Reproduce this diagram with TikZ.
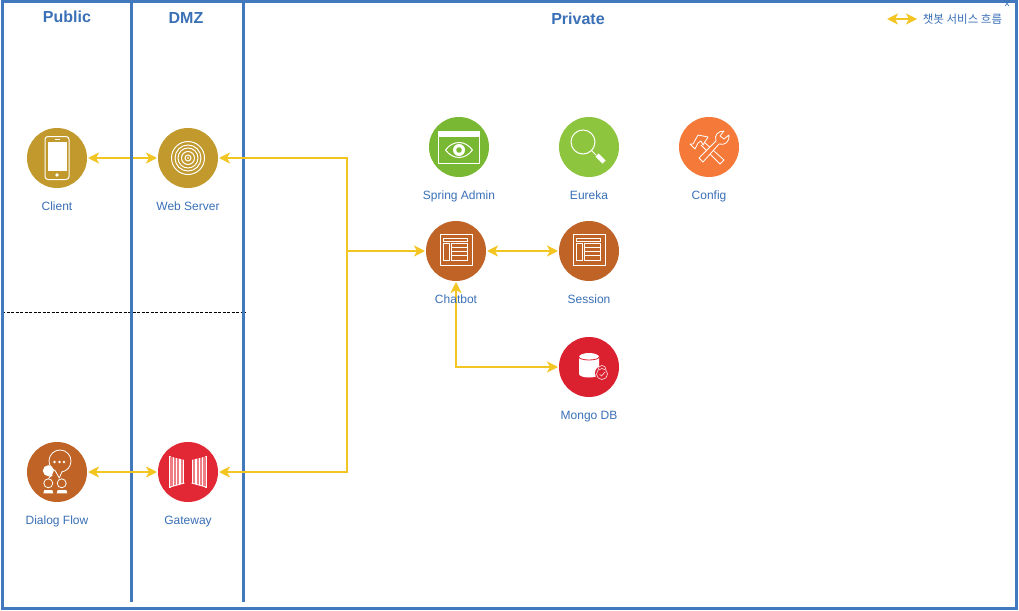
\documentclass[tikz,border=0pt]{standalone}
\usepackage{fontspec}
\setmainfont{Liberation Sans}
\newfontfamily\krfont{Noto Sans CJK KR}
\usetikzlibrary{arrows.meta}
\definecolor{FrameBlue}{RGB}{66,121,190}
\definecolor{TextBlue}{RGB}{58,112,182}
\definecolor{FlowYellow}{RGB}{243,197,35}
\definecolor{IconGold}{RGB}{194,153,45}
\definecolor{IconBrown}{RGB}{191,100,38}
\definecolor{IconRed}{RGB}{226,39,53}
\definecolor{IconDarkRed}{RGB}{219,32,48}
\definecolor{IconGreen}{RGB}{121,184,50}
\definecolor{IconLime}{RGB}{141,197,63}
\definecolor{IconOrange}{RGB}{245,122,58}
% page icon of Chatbot and Session
\newcommand{\pageicon}[1]{
\begin{scope}[shift={(#1)}]
   \draw[icn] (-16,-17) rectangle (16,14);
   \draw[icn] (-13,-13) rectangle (11,-10);
   \draw[icn] (-13,-8) rectangle (-7,9);
   \draw[icn] (-5,-8) rectangle (11,9);
   \foreach \y in {-4,0,4} {
      \draw[icn] (-5,\y) -- (11,\y);
   }
\end{scope}
}
\begin{document}
\begin{tikzpicture}[x=1pt,y=-1pt,
   svc/.style={circle,fill=#1,minimum size=60pt,inner sep=0pt,outer sep=1pt},
   lbl/.style={text=TextBlue,anchor=base,font=\fontsize{12}{14}\selectfont},
   ttl/.style={text=TextBlue,font=\fontsize{16}{18}\selectfont\bfseries},
   flow/.style={FlowYellow,line width=2.2pt,>={Stealth[length=11pt,width=11pt,inset=3pt]}},
   wall/.style={FrameBlue,line width=3pt},
   icn/.style={white,line width=0.8pt}]
\fill[white] (0,0) rectangle (1019,610);
\useasboundingbox (0,0) rectangle (1019,610);
% zones
\draw[black,line width=0.8pt,dash pattern=on 3pt off 1.5pt] (2,312) -- (246,312);
\node[svc=IconGold] (client) at (57,158) {};
\node[svc=IconGold] (web) at (188,158) {};
\draw[flow,<->] (client) -- (web);
\draw[wall] (2,2) rectangle (1016,608);
\draw[wall] (131,2) -- (131,602);
\draw[wall] (243,2) -- (243,602);
\draw[TextBlue,line width=0.6pt] (1004,0) -- (1009,6) (1010,0) -- (1005,6);
\node[ttl] (public) at (67,17) {Public};
\node[ttl] (dmz) at (186,18) {DMZ};
\node[ttl] (private) at (578,19) {Private};
% services
\foreach \nm/\cx/\cy/\col in {dialog/57/472/IconBrown,gateway/188/472/IconRed,admin/459/147/IconGreen,
   eureka/589/147/IconLime,config/709/147/IconOrange,chatbot/456/251/IconBrown,
   session/589/251/IconBrown,mongo/589/367/IconDarkRed} {
   \node[svc=\col] (\nm) at (\cx,\cy) {};
}
\coordinate (bus) at (347,251);
\coordinate (legendl) at (887,19);
\coordinate (legendr) at (917,19);
\draw[flow,<-] (web) -| (bus);
\draw[flow,<-] (gateway) -| (bus);
\draw[flow,->] (bus) -- (chatbot);
\draw[flow,<->] (dialog) -- (gateway);
\draw[flow,<->] (chatbot) -- (session);
\draw[flow,<->] (chatbot) |- (mongo);
\draw[flow,<->] (legendl) -- (legendr);
\node[text=TextBlue,font=\krfont\fontsize{11.5}{13}\selectfont] (legend) at (962.5,19) {챗봇 서비스 흐름};
\foreach \nm/\txt in {client/Client,web/Web Server,dialog/Dialog Flow,gateway/Gateway,admin/Spring Admin,
   eureka/Eureka,config/Config,chatbot/Chatbot,session/Session,mongo/Mongo DB} {
   \node[lbl] (\nm-lbl) at ([yshift=-52pt]\nm.center) {\txt};
}
% phone
\begin{scope}[shift={(client)}]
   \draw[white,line width=1pt,rounded corners=3pt] (-12,-21.5) rectangle (12,21.5);
   \fill[white] (-9.5,-16.5) rectangle (9.5,13);
   \fill[white] (0,17) circle[radius=1.8];
   \draw[icn] (-2.5,-18.8) -- (2.5,-18.8);
\end{scope}
% rings
\begin{scope}[shift={(web)}]
   \foreach \r in {16.5,13,10,6.5,3} {
      \draw[white,line width=1pt] (0,0) circle[radius=\r];
   }
   \fill[white] (0,0) circle[radius=1];
\end{scope}
% people and bubble
\begin{scope}[shift={(dialog)}]
   \draw[icn,line join=round] (3,-11) ++(115:11) arc[start angle=115,end angle=440,radius=11] -- (2.3,6) -- (-1.65,-1.03);
   \foreach \x in {-2.5,2.5,7} {
      \fill[white] (\x,-10) circle[radius=1.3];
   }
   \fill[white] (-8.7,-1.3) circle[radius=5.5];
   \fill[white] (-7,3) -- (-9,7) -- (-4,3) -- cycle;
   \draw[icn] (-8.7,11.3) circle[radius=4.5];
   \draw[icn] (4.7,11.3) circle[radius=4.5];
   \fill[white] (-12.7,18) -- (-4.7,18) -- (-3.7,21.3) -- (-13.7,21.3) -- cycle;
   \fill[white] (0.7,18) -- (9.3,18) -- (10.3,21.3) -- (-0.3,21.3) -- cycle;
\end{scope}
% gates
\begin{scope}[shift={(gateway)}]
   \foreach \s in {-1,1} {
      \begin{scope}[xscale=\s]
         \draw[white,line width=1.6pt] (-18,-16) -- (-18,15.5);
         \begin{scope}
            \clip (-18,-15.5) -- (-3.5,-12) -- (-3.5,11) -- (-18,15) -- cycle;
            \fill[white!40!IconRed] (-18,-16) rectangle (-3.5,16);
            \foreach \x in {-14.5,-11.5,-8,-4.5} {
               \draw[white,line width=1.1pt] (\x,-16) -- (\x,16);
            }
         \end{scope}
         \draw[white,line width=0.8pt] (-18,15) -- (-3.5,11);
      \end{scope}
   }
\end{scope}
% window and eye
\begin{scope}[shift={(admin)}]
   \draw[white,line width=1pt] (-20.5,-16) rectangle (20.5,16);
   \fill[white] (-20.5,-16) rectangle (20.5,-10);
   \draw[white,line width=1pt] (-13.5,3) .. controls (-6,-7) and (6,-7) .. (13.5,3) .. controls (6,13) and (-6,13) .. cycle;
   \fill[white] (0,3) circle[radius=6];
   \fill[IconGreen] (0,3) circle[radius=2.8];
\end{scope}
% magnifier
\begin{scope}[shift={(eureka)}]
   \draw[white,line width=1pt] (-6,-5) circle[radius=12];
   \draw[white,line width=0.8pt] (2.5,3.5) -- (7,8);
   \draw[white,line width=4.5pt] (8,8) -- (15,15);
\end{scope}
% hammer and wrench
\begin{scope}[shift={(config)}]
   \draw[icn,line join=round] (-19,-3) -- (-16,-3) -- (-11,-12) -- (-1,-10) -- (-6,-2) -- (-8,-6) -- (-11,-4) -- (-14,2) -- cycle;
   \draw[icn,line join=round] (-5,-5) -- (15,13) -- (11,17) -- (-8,-2);
   \draw[icn,fill=IconOrange,line join=round] (-10,11) -- (7,-6) .. controls (5,-12) and (9,-16) .. (15,-16) -- (11,-11) -- (15,-8) -- (20,-12) .. controls (21,-6) and (16,-1) .. (10,-3) -- (-6,15) -- cycle;
\end{scope}
\pageicon{chatbot}
\pageicon{session}
% cylinder and lock
\begin{scope}[shift={(mongo)}]
   \fill[white] (-10,-10) -- (-10,7) arc[start angle=180,end angle=0,x radius=10,y radius=3.5] -- (10,-10) arc[start angle=0,end angle=-180,x radius=10,y radius=4] -- cycle;
   \draw[IconDarkRed,line width=0.8pt] (-10,-10) arc[start angle=180,end angle=0,x radius=10,y radius=3];
   \fill[IconDarkRed] (13,6) circle[radius=7];
   \draw[white!80!IconDarkRed,line width=0.7pt] (13,7) circle[radius=5.5];
   \draw[white!80!IconDarkRed,line width=0.7pt] (9,2.5) arc[start angle=180,end angle=360,radius=4];
   \draw[white!80!IconDarkRed,line width=0.7pt] (10.5,7) -- (12.5,9) -- (16,5);
\end{scope}
\end{tikzpicture}
\end{document}
